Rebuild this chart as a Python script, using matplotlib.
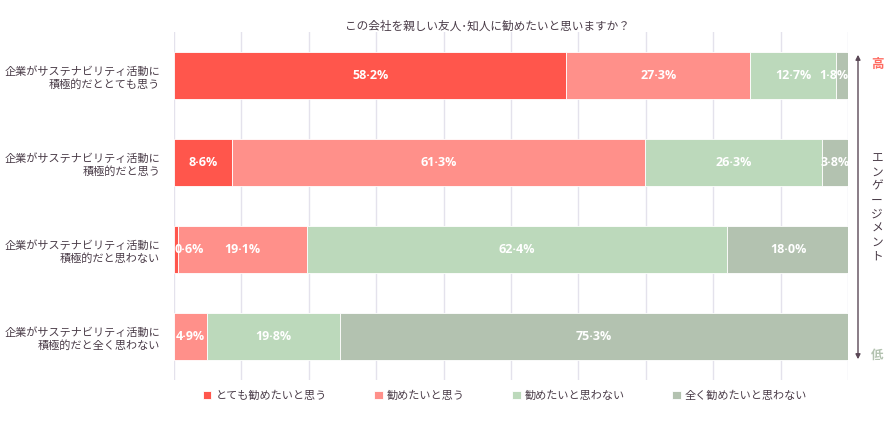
import matplotlib
matplotlib.use("Agg")
import matplotlib.pyplot as plt
from matplotlib.patches import FancyArrowPatch

plt.rcParams['font.family'] = ['Noto Sans CJK JP', 'DejaVu Sans']

categories = [
    "企業がサステナビリティ活動に\n積極的だととても思う",
    "企業がサステナビリティ活動に\n積極的だと思う",
    "企業がサステナビリティ活動に\n積極的だと思わない",
    "企業がサステナビリティ活動に\n積極的だと全く思わない",
]
series_names = ["とても勧めたいと思う", "勧めたいと思う", "勧めたいと思わない", "全く勧めたいと思わない"]
values = [
    [58.2, 8.6, 0.6, 0.0],
    [27.3, 61.3, 19.1, 4.9],
    [12.7, 26.3, 62.4, 19.8],
    [1.8, 3.8, 18.0, 75.3],
]
colors = ["#FF564C", "#FF908A", "#BCD9BB", "#B3C2B0"]
title = "この会社を親しい友人･知人に勧めたいと思いますか？"
text_color = "#4A3C48"

fig = plt.figure(figsize=(8.94, 4.33), dpi=100)
ax = fig.add_axes([174/894, 1-380/433, 674/894, 348/433])

n = len(categories)
ypos = list(range(n))
left = [0.0]*n
for s, (name, vals, col) in enumerate(zip(series_names, values, colors)):
    ax.barh(ypos, vals, left=left, height=0.55, color=col, label=name, zorder=2,
            edgecolor='white', linewidth=0.6)
    for i, v in enumerate(vals):
        if v <= 0:
            continue
        txt = f"{v:.1f}%".replace(".", "·")
        c = left[i] + v/2
        ha = 'center'
        x = c
        if v < 2 and left[i] < 1:
            x, ha = left[i] + 0.05, 'left'
        elif v < 2 and left[i] + v > 99:
            x, ha = 100, 'right'
        ax.text(x, i, txt, ha=ha, va='center', color='white', fontsize=9,
                fontweight='bold', zorder=3, family=['Open Sans', 'DejaVu Sans'])
    left = [l + v for l, v in zip(left, vals)]

ax.set_xlim(0, 100)
ax.set_ylim(n - 0.5, -0.5)
ax.set_xticks(range(0, 101, 10))
ax.xaxis.grid(True, color="#E4E2EC", linewidth=1, zorder=0)
ax.tick_params(axis='x', length=0, labelbottom=False)
ax.tick_params(axis='y', length=0, pad=10)
ax.set_yticks(ypos)
ax.set_yticklabels(categories, fontsize=8, color=text_color, linespacing=1.35)
for sp in ax.spines.values():
    sp.set_visible(False)

fig.text(487/894, 1-26/433, title, ha='center', va='center', fontsize=8.4, color=text_color)

leg = fig.legend(loc='center', bbox_to_anchor=(505/894, 1-396/433), ncol=4, frameon=False,
                 fontsize=8, handlelength=0.75, handleheight=0.75, handletextpad=0.35,
                 columnspacing=4.3, labelcolor=text_color)

# engagement arrow
fig.patches.append(FancyArrowPatch(
    (858/894, 1-362/433), (858/894, 1-52/433), transform=fig.transFigure,
    arrowstyle='<|-|>', mutation_scale=7, color="#5A4856", linewidth=1))
fig.text(877/894, 1-64/433, "高", ha='center', va='center', fontsize=9, color="#FF6A60", fontweight='bold')
fig.text(877/894, 1-355/433, "低", ha='center', va='center', fontsize=9, color="#B3C2B0", fontweight='bold')
fig.text(877/894, 1-207/433, "\n".join("エンゲージメント"), ha='center', va='center',
         fontsize=8.4, color=text_color, linespacing=1.1)

fig.savefig("out.png", dpi=100)
